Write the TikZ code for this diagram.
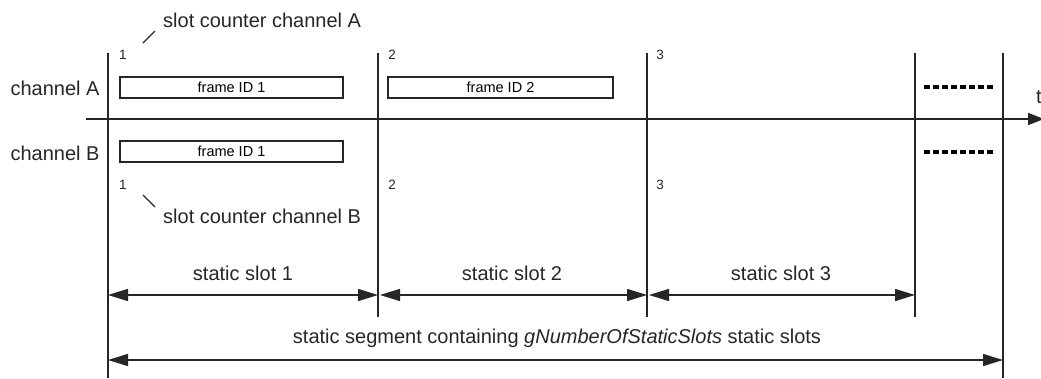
\documentclass[tikz,border=0pt]{standalone}
\usepackage{fontspec}
\setmainfont{Liberation Sans}
\usetikzlibrary{arrows.meta}
\begin{document}
\begin{tikzpicture}[x=1pt,y=-1pt,
  rule/.style={line width=1.6pt,draw=black!85},
  framebox/.style={draw=black!85,line width=1.5pt,minimum width=223pt,minimum height=21pt,inner sep=0pt,font=\fontsize{14.5}{16}\selectfont},
  lbl/.style={font=\fontsize{20}{22}\selectfont,text=black!85,inner sep=0pt},
  num/.style={font=\fontsize{13.5}{15}\selectfont,text=black!85,inner sep=0pt},
  dim/.style={line width=1.5pt,draw=black!85,{Triangle[length=20pt,width=12pt]}-{Triangle[length=20pt,width=12pt]}},
  gap/.style={line width=4pt,draw=black,dash pattern=on 6pt off 3pt}]
\useasboundingbox (0,0) rectangle (1041,378);

% slot boundaries
\coordinate (v0t) at (108,53);  \coordinate (v0b) at (108,378);
\coordinate (v1t) at (378,53);  \coordinate (v1b) at (378,317);
\coordinate (v2t) at (647,53);  \coordinate (v2b) at (647,317);
\coordinate (v3t) at (915,53);  \coordinate (v3b) at (915,317);
\coordinate (v4t) at (1003,53); \coordinate (v4b) at (1003,378);
\foreach \i in {0,...,4} {\draw[rule] (v\i t) -- (v\i b);}

% time axis
\coordinate (ax0) at (86,119);
\coordinate (ax1) at (1044,119);
\draw[rule,-{Triangle[length=16pt,width=12pt]}] (ax0) -- (ax1);
\node[lbl,anchor=west] (t) at (1036,97) {t};

% channel labels
\node[lbl] (chA) at (55,88) {channel A};
\node[lbl] (chB) at (55,153) {channel B};

% frames
\node[framebox] (fA1) at (231.5,87.5) {frame ID 1};
\node[framebox,minimum width=225pt] (fA2) at (500.5,87.5) {frame ID 2};
\node[framebox] (fB1) at (231.5,151.5) {frame ID 1};

% unused remainder of the segment
\coordinate (dA0) at (924,87);  \coordinate (dA1) at (995,87);
\coordinate (dB0) at (924,152); \coordinate (dB1) at (995,152);
\draw[gap] (dA0) -- (dA1);
\draw[gap] (dB0) -- (dB1);

% slot counters
\node[num] (a1) at (123,55) {1};
\node[num] (a2) at (392,55) {2};
\node[num] (a3) at (660,55) {3};
\node[num] (b1) at (123,185) {1};
\node[num] (b2) at (392,185) {2};
\node[num] (b3) at (660,185) {3};

\node[lbl,anchor=west] (scA) at (163,20) {slot counter channel A};
\node[lbl,anchor=west] (scB) at (163,216) {slot counter channel B};
\coordinate (tA0) at (143,43); \coordinate (tA1) at (155,31);
\coordinate (tB0) at (143,195); \coordinate (tB1) at (155,207);
\draw[line width=1.2pt,draw=black!85] (tA0) -- (tA1);
\draw[line width=1.2pt,draw=black!85] (tB0) -- (tB1);

% static slots
\coordinate (s0) at (108,295); \coordinate (s1) at (378,295);
\coordinate (s2) at (647,295); \coordinate (s3) at (915,295);
\draw[dim] (s0) -- (s1);
\draw[dim] ([xshift=2pt]s1) -- (s2);
\draw[dim] ([xshift=2pt]s2) -- (s3);
\node[lbl] (sl1) at (243,273) {static slot 1};
\node[lbl] (sl2) at (512,273) {static slot 2};
\node[lbl] (sl3) at (781,273) {static slot 3};

% static segment
\coordinate (g0) at (108,360); \coordinate (g1) at (1003,360);
\draw[dim] (g0) -- (g1);
\node[lbl] (seg) at (557,338) {static segment containing \textit{gNumberOfStaticSlots} static slots};
\end{tikzpicture}
\end{document}
